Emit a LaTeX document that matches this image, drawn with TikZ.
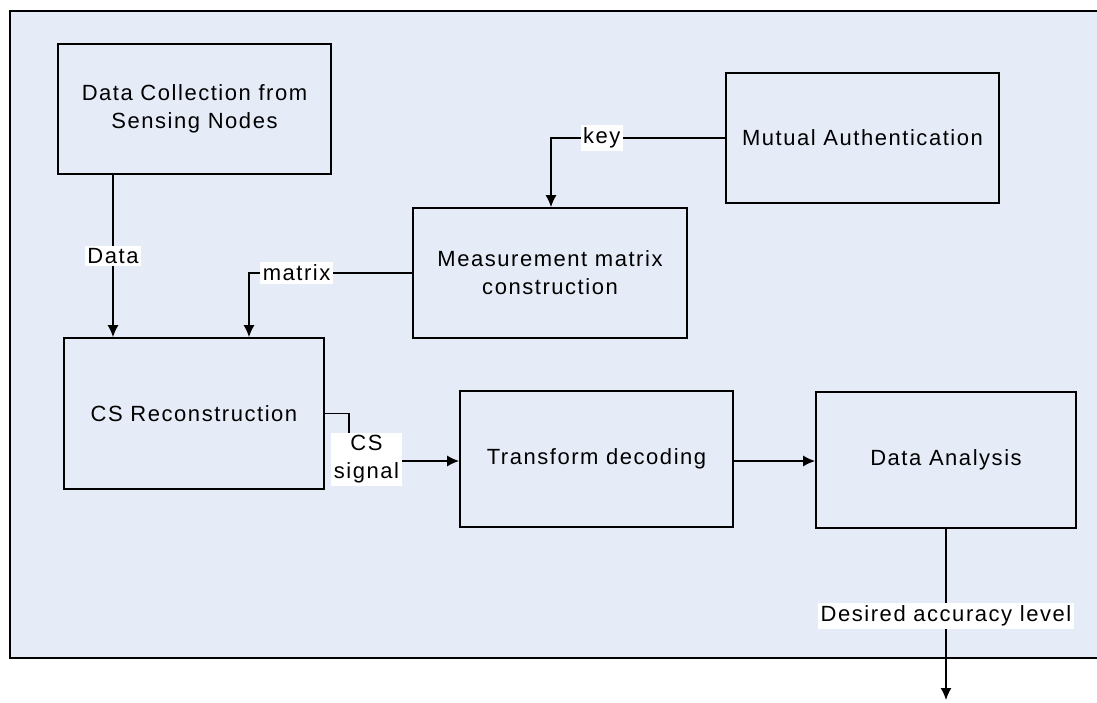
\documentclass[tikz,border=0pt]{standalone}
\usepackage{fontspec}
\setmainfont{Liberation Sans}[LetterSpace=7]
\usepackage{tikz}
\usetikzlibrary{arrows.meta}
\usetikzlibrary{calc}
\usepackage{xcolor}
\definecolor{panel}{RGB}{230,236,247}
\tikzstyle{block}=[draw=black, line width=1.7pt, minimum width=273pt, minimum height=130pt, align=center, inner sep=0pt]
\tikzstyle{lbl}=[fill=white, inner sep=2.5pt, align=center]
\tikzstyle{arr}=[line width=1.4pt, -{Latex[length=12pt,width=11pt]}]

\begin{document}
\begin{tikzpicture}[x=1pt,y=-1pt,font=\fontsize{22}{28}\selectfont]
\useasboundingbox (0,0) rectangle (1097,703);
\draw[fill=panel, line width=1.7pt] (10,11) rectangle (1110,658);
% blocks
\node[block] (coll) at (194.5,109) {Data Collection from\\Sensing Nodes};
\node[block] (auth) at (862.5,138) {Mutual Authentication};
\node[block, minimum width=274pt] (meas) at (550,273) {Measurement matrix\\construction};
\node[block, minimum width=260pt, minimum height=151pt] (csr) at (194,413.5) {CS Reconstruction};
\node[block, minimum height=136pt] (dec) at (596.5,459) {Transform decoding};
\node[block, minimum width=260pt, minimum height=136pt] (ana) at (946,460) {Data Analysis};
% connector points
\coordinate (dataX) at (113,0);
\coordinate (mtxX) at (249,0);
\coordinate (keyX) at (551,0);
\coordinate (sigc) at (349,461);
\coordinate (out) at (946,700);
% connectors
\draw[arr] (coll.south -| dataX) -- node[lbl] {Data} (csr.north -| dataX);
\draw[arr] (meas.west) -| node[lbl, pos=0.354] {matrix} (csr.north -| mtxX);
\draw[arr] (auth.west) -| node[lbl, pos=0.354] {key} (meas.north -| keyX);
\draw[arr] (csr.east) -| (sigc) -- (dec.west |- sigc);
\node[lbl] (sig) at (366.5,459.5) {CS\\signal};
\draw[arr] (dec.east |- sigc) -- (ana.west |- sigc);
\draw[arr] (ana.south) -- node[lbl, pos=0.51] {Desired accuracy level} (out);
\end{tikzpicture}
\end{document}
